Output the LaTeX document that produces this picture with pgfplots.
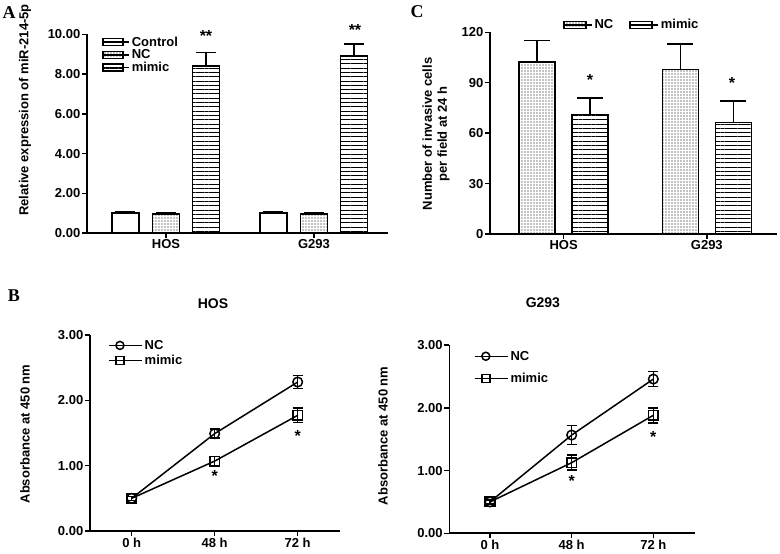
\documentclass[border=0pt]{standalone}
\usepackage{fontspec}
\setmainfont{Liberation Sans}
\newfontfamily\serifb{Liberation Serif}
\usepackage{pgfplots}
\pgfplotsset{compat=1.18}
\usetikzlibrary{patterns.meta}
\newcommand\lf{\fontsize{13}{15}\selectfont\bfseries}
\tikzset{starnode/.style={font=\fontsize{16}{16}\selectfont\bfseries, anchor=north, inner sep=0pt}}
\pgfplotsset{
  prism/.style={
    scale only axis,
    axis x line=bottom, axis y line=left,
    axis line style={-, line width=1.6pt},
    every tick/.style={black, line width=1.5pt},
    tick align=outside, major tick length=5pt,
    minor tick num=0,
    tick label style={font=\lf, inner sep=1.5pt},
    /pgf/number format/assume math mode=true,
    label style={font=\lf},
    title style={font=\fontsize{14}{16}\selectfont\bfseries, yshift=0pt},
    clip=false,
    ymin=0,
  },
  barleg/.style={legend image code/.code={\draw[##1, line width=1.5pt] (0pt,-3.5pt) rectangle (#1,3.5pt); \path (0pt,0pt) -- ([xshift=6pt]#1,0pt);}},
  mybar/.style 2 args={ybar, bar shift=0pt, draw=black, line width=1.5pt, fill=white, barleg=#2,
    error bars/y dir=plus, error bars/y explicit,
    error bars/error bar style={line width=1.5pt, black},
    error bars/error mark options={rotate=90, line width=1.5pt, mark size=#1, black}},
  pdots/.style={pattern={Dots[distance=3pt, radius=0.55pt]}, pattern color=black},
  plines/.style={pattern={Lines[angle=0, distance=4.3pt, line width=0.9pt]}, pattern color=black},
  myline/.style={black, line width=1.5pt, mark size=4.8pt, mark options={solid, fill=white, line width=1.5pt},
    legend image code/.code={\draw[mark repeat=2, mark phase=2, ##1, mark size=4pt] plot coordinates {(0pt,0pt) (11pt,0pt) (22pt,0pt)}; \path (0pt,0pt) -- (33pt,0pt);},
    error bars/y dir=both, error bars/y explicit,
    error bars/error bar style={line width=1.5pt, black},
    error bars/error mark options={rotate=90, line width=1.5pt, mark size=5pt, black}},
}
\begin{document}
\begin{tikzpicture}
\useasboundingbox (0pt,0pt) rectangle (780pt,554pt);
% Panel letters
\node[font=\serifb\bfseries\fontsize{18}{18}\selectfont] at (9pt,541pt) {A};
\node[font=\serifb\bfseries\fontsize{18}{18}\selectfont] at (417pt,542pt) {C};
\node[font=\serifb\bfseries\fontsize{18}{18}\selectfont] at (14pt,258pt) {B};

% ---------------- Panel A ----------------
\begin{axis}[prism,
  at={(87pt,321pt)}, anchor=south west,
  width=301pt, height=198.5pt,
  xmin=-0.534, xmax=1.5, ymax=10,
  xtick={0,1}, xticklabels={HOS,G293},
  ytick={0,2,4,6,8,10},
  yticklabel style={/pgf/number format/.cd, fixed, fixed zerofill, precision=2},
  ylabel={Relative expression of miR-214-5p},
  ylabel style={at={(axis description cs:-0.206,0.62)}, anchor=center},
  legend style={draw=none, fill=none, at={(0.05,1.0)}, anchor=north west,
    font=\lf, row sep=-2pt, inner sep=0pt},
  legend cell align=left,
]
\addplot[mybar={10pt}{20pt}, bar width=27pt] coordinates {(-0.274,1.00) +- (0,0.05) (0.726,1.00) +- (0,0.05)};
\addplot[mybar={10pt}{20pt}, bar width=27pt, pdots] coordinates {(0,0.96) +- (0,0.06) (1,0.95) +- (0,0.06)};
\addplot[mybar={10pt}{20pt}, bar width=27pt, plines] coordinates {(0.27,8.41) +- (0,0.68) (1.27,8.92) +- (0,0.60)};
\legend{Control,NC,mimic}
\node[starnode] at (axis cs:0.27,10.19) {**};
\node[starnode] at (axis cs:1.277,10.53) {**};
\end{axis}

% ---------------- Panel C ----------------
\begin{axis}[prism,
  at={(490pt,320pt)}, anchor=south west,
  width=287pt, height=201.7pt,
  xmin=-0.514, xmax=1.49, ymax=120,
  xtick={0,1}, xticklabels={HOS,G293},
  ytick={0,30,60,90,120},
  ylabel={Number of invasive cells\\per field at 24 h},
  ylabel style={at={(axis description cs:-0.188,0.496)}, anchor=center, align=center},
  legend style={draw=none, fill=none, at={(0.254,1.075)}, anchor=north west,
    font=\lf, inner sep=0pt, /tikz/every even column/.append style={column sep=14pt}},
  legend columns=2,
]
\addplot[mybar={13pt}{22pt}, bar width=36pt, pdots] coordinates {(-0.185,102.3) +- (0,12.7) (0.815,98.0) +- (0,15.0)};
\addplot[mybar={13pt}{22pt}, bar width=36pt, plines] coordinates {(0.185,71.2) +- (0,9.8) (1.185,66.2) +- (0,12.8)};
\legend{NC,mimic}
\node[starnode] at (axis cs:0.185,95.2) {*};
\node[starnode] at (axis cs:1.175,93.0) {*};
\end{axis}

% ---------------- Panel B: HOS ----------------
\begin{axis}[prism,
  at={(90pt,23pt)}, anchor=south west,
  width=250pt, height=196pt,
  xmin=-0.502, xmax=2.51, ymax=3,
  xtick={0,1,2}, xticklabels={0 h,48 h,72 h},
  ytick={0,1,2,3},
  yticklabel style={/pgf/number format/.cd, fixed, fixed zerofill, precision=2},
  ylabel={Absorbance at 450 nm},
  ylabel style={at={(axis description cs:-0.26,0.495)}, anchor=center},
  title={HOS}, title style={at={(0.492,1.128)}, anchor=center},
  legend style={draw=none, fill=none, at={(0.072,0.985)}, anchor=north west,
    font=\lf, row sep=0.5pt, inner sep=0pt},
  legend cell align=left,
]
\addplot[myline, mark=o] coordinates {(0,0.50) +- (0,0.03) (1,1.49) +- (0,0.07) (2,2.28) +- (0,0.10)};
\addplot[myline, mark=square] coordinates {(0,0.50) +- (0,0.03) (1,1.07) +- (0,0.07) (2,1.77) +- (0,0.11)};
\legend{NC,mimic}
\node[starnode] at (axis cs:1,0.923) {*};
\node[starnode] at (axis cs:2,1.536) {*};
\end{axis}

% ---------------- Panel B: G293 ----------------
\begin{axis}[prism,
  at={(449.3pt,20.7pt)}, anchor=south west,
  width=245.7pt, height=188.3pt,
  xmin=-0.498, xmax=2.51, ymax=3,
  xtick={0,1,2}, xticklabels={0 h,48 h,72 h},
  ytick={0,1,2,3},
  yticklabel style={/pgf/number format/.cd, fixed, fixed zerofill, precision=2},
  ylabel={Absorbance at 450 nm},
  ylabel style={at={(axis description cs:-0.27,0.517)}, anchor=center},
  title={G293}, title style={at={(0.381,1.191)}, anchor=center},
  legend style={draw=none, fill=none, at={(0.1,0.98)}, anchor=north west,
    font=\lf, row sep=7.5pt, inner sep=0pt},
  legend cell align=left,
]
\addplot[myline, mark=o] coordinates {(0,0.50) +- (0,0.03) (1,1.565) +- (0,0.15) (2,2.457) +- (0,0.12)};
\addplot[myline, mark=square] coordinates {(0,0.50) +- (0,0.03) (1,1.125) +- (0,0.12) (2,1.88) +- (0,0.12)};
\legend{NC,mimic}
\node[starnode] at (axis cs:1,0.917) {*};
\node[starnode] at (axis cs:2,1.618) {*};
\end{axis}
\end{tikzpicture}
\end{document}
